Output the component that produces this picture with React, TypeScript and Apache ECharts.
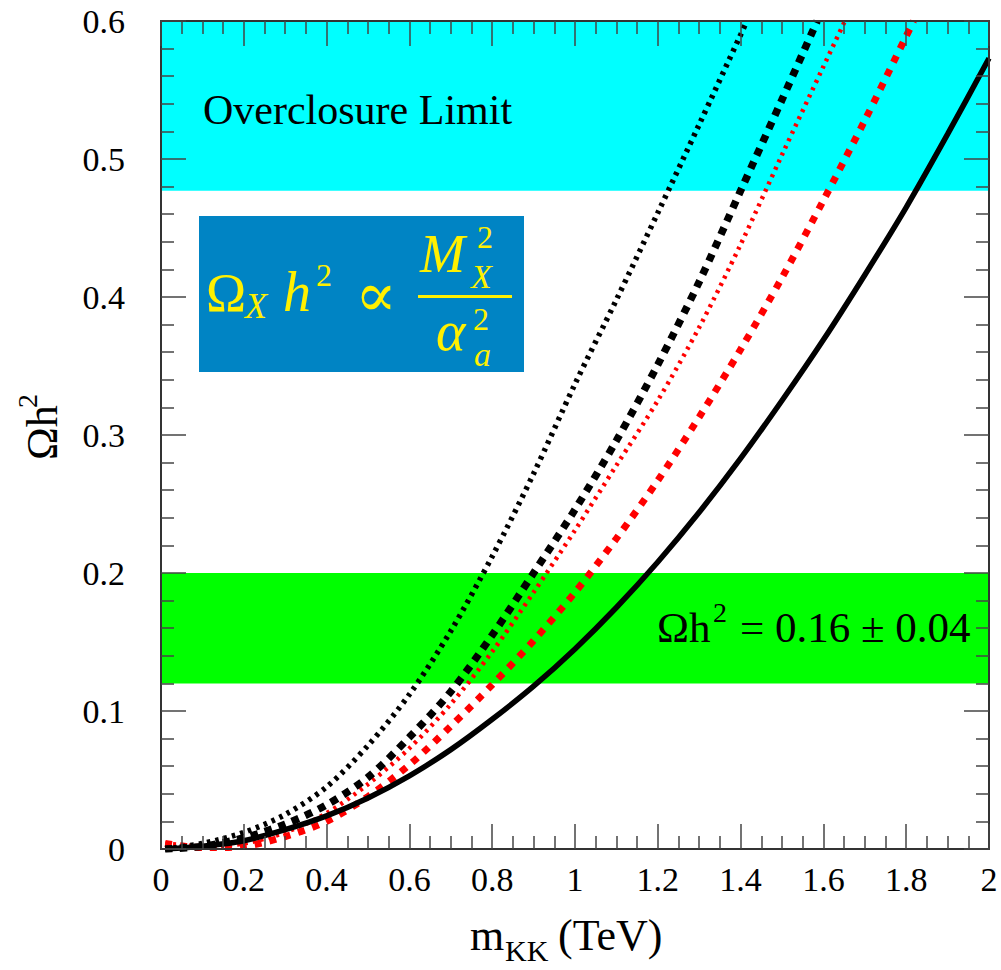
import React, { useEffect, useRef } from "react";
import * as echarts from "echarts";

// Relic density Ωh² versus KK mass (TeV)
const xTicks = ["0", "0.2", "0.4", "0.6", "0.8", "1", "1.2", "1.4", "1.6", "1.8", "2"];
const yTicks = ["0", "0.1", "0.2", "0.3", "0.4", "0.5", "0.6"];

const blackSolid: [number, number][] = [
  [0.01, 0.0], [0.1, 0.002], [0.2, 0.006], [0.3, 0.014], [0.4, 0.024], [0.5, 0.037],
  [0.6, 0.053], [0.7, 0.072], [0.8, 0.094], [0.9, 0.118], [1.0, 0.145], [1.1, 0.175],
  [1.2, 0.208], [1.3, 0.244], [1.4, 0.283], [1.5, 0.325], [1.6, 0.369], [1.7, 0.416],
  [1.8, 0.465], [1.9, 0.518], [2.0, 0.573],
];
const blackDotted: [number, number][] = [
  [0.01, 0.0], [0.1, 0.004], [0.2, 0.012], [0.3, 0.025], [0.4, 0.045], [0.5, 0.075],
  [0.6, 0.112], [0.7, 0.158], [0.8, 0.212], [0.9, 0.272], [1.0, 0.337], [1.1, 0.398],
  [1.2, 0.461], [1.3, 0.525], [1.4, 0.59], [1.415, 0.6],
];
const blackDashed: [number, number][] = [
  [0.01, 0.0], [0.1, 0.002], [0.2, 0.008], [0.3, 0.018], [0.4, 0.032], [0.5, 0.052],
  [0.6, 0.081], [0.7, 0.114], [0.8, 0.155], [0.9, 0.2], [1.0, 0.246], [1.1, 0.296],
  [1.2, 0.351], [1.3, 0.411], [1.4, 0.477], [1.5, 0.543], [1.585, 0.6],
];
const redDotted: [number, number][] = [
  [0.01, 0.004], [0.1, 0.002], [0.2, 0.004], [0.3, 0.012], [0.4, 0.026], [0.5, 0.047],
  [0.6, 0.073], [0.7, 0.105], [0.8, 0.143], [0.9, 0.186], [1.0, 0.231], [1.1, 0.278],
  [1.2, 0.325], [1.3, 0.378], [1.4, 0.438], [1.5, 0.503], [1.6, 0.567], [1.652, 0.6],
];
const redDashed: [number, number][] = [
  [0.01, 0.004], [0.1, 0.001], [0.2, 0.002], [0.3, 0.009], [0.4, 0.02], [0.5, 0.038],
  [0.6, 0.061], [0.7, 0.089], [0.8, 0.119], [0.9, 0.151], [1.0, 0.186], [1.1, 0.225],
  [1.2, 0.267], [1.3, 0.313], [1.4, 0.362], [1.5, 0.414], [1.6, 0.47], [1.7, 0.528],
  [1.8, 0.589], [1.818, 0.6],
];

// Horizontal bands: WMAP-preferred range and overclosure region
const wmapBand = [0.12, 0.2];
const overclosureBand = [0.477, 0.6];

const SERIF = "'Liberation Serif', 'DejaVu Serif', serif";
const YELLOW = "#fff000";

// text placed by its alphabetic baseline
function txt(x: number, baseline: number, s: string, size: number, opts: any = {}) {
  return {
    type: "text",
    x,
    y: baseline - 0.3375 * size,
    z: 100,
    style: {
      text: s,
      fontFamily: opts.family || SERIF,
      fontSize: size,
      fontStyle: opts.italic ? "italic" : "normal",
      fill: opts.fill || "#000",
      align: opts.align || "left",
      verticalAlign: "middle",
      lineHeight: size,
    },
  };
}

function axisCommon(pos: string, showLabel: boolean, labels: string[], split: number) {
  return {
    type: "value",
    position: pos,
    z: 10,
    axisLine: { show: true, onZero: false, lineStyle: { color: "#333", width: 2 } },
    axisTick: { show: true, inside: true, length: 25, lineStyle: { color: "#444", width: 1.5 } },
    minorTick: { show: true, splitNumber: split, length: 13, lineStyle: { color: "#444", width: 1.5 } },
    splitLine: { show: false },
    axisLabel: {
      show: showLabel,
      fontFamily: SERIF,
      fontSize: 34,
      color: "#000",
      lineHeight: 34,
      formatter: (v: number) => {
        const i = labels.findIndex((l) => Math.abs(parseFloat(l) - v) < 1e-9);
        return i >= 0 ? labels[i] : "";
      },
    },
  };
}

export default function App() {
  const ref = useRef<HTMLDivElement>(null);

  useEffect(() => {
    document.body.style.margin = "0";
    if (!ref.current) return;
    const chart = echarts.init(ref.current, undefined, { renderer: "svg" });

    const xA = (pos: string, show: boolean) => {
      const base = axisCommon(pos, show, xTicks, 4);
      return { ...base, min: 0, max: 2, interval: 0.2, axisLabel: { ...base.axisLabel, margin: 13 } };
    };
    const yA = (pos: string, show: boolean) => {
      const base = axisCommon(pos, show, yTicks, 5);
      return { ...base, min: 0, max: 0.6, interval: 0.1, axisLabel: { ...base.axisLabel, margin: 36 } };
    };

    const curve = (data: [number, number][], color: string, width: number, type: any, z: number) => ({
      type: "line",
      data,
      showSymbol: false,
      smooth: 0.3,
      clip: true,
      z,
      lineStyle: { color, width, type, cap: "butt" },
      xAxisIndex: 0,
      yAxisIndex: 0,
    });

    const option: any = {
      animation: false,
      grid: { left: 161, right: 12, top: 21, bottom: 121, containLabel: false },
      xAxis: [xA("bottom", true), xA("top", false)],
      yAxis: [yA("left", true), yA("right", false)],
      series: [
        {
          type: "line",
          data: [],
          z: 1,
          markArea: {
            silent: true,
            data: [
              [{ yAxis: overclosureBand[0], itemStyle: { color: "#00ffff" } }, { yAxis: overclosureBand[1] }],
              [{ yAxis: wmapBand[0], itemStyle: { color: "#00ff00" } }, { yAxis: wmapBand[1] }],
            ],
          },
        },
        curve(redDashed, "#ff0000", 7, [7, 8], 3),
        curve(redDotted, "#ff0000", 4.5, [3, 5], 3),
        curve(blackSolid, "#000000", 5.5, "solid", 4),
        curve(blackDashed, "#000000", 7.5, [7.5, 7], 4),
        curve(blackDotted, "#000000", 5.5, [3.5, 5], 4),
      ],
      graphic: [
        // band labels
        txt(203, 124, "Overclosure Limit", 42),
        txt(657, 642, "Ωh", 43),
        txt(713, 622, "2", 28),
        txt(740, 642, "= 0.16 ± 0.04", 43),
        // formula box
        {
          type: "rect",
          z: 90,
          shape: { x: 199, y: 216, width: 325, height: 156 },
          style: { fill: "#0084c4" },
        },
        txt(206, 311, "Ω", 54, { fill: YELLOW }),
        txt(245, 318, "X", 36, { fill: YELLOW, italic: true }),
        txt(283, 311, "h", 56, { fill: YELLOW, italic: true }),
        txt(316, 286, "2", 32, { fill: YELLOW }),
        {
          type: "text",
          x: 376,
          y: 294,
          z: 100,
          style: {
            text: "∝",
            fontFamily: "'DejaVu Serif', serif",
            fontSize: 62,
            fill: YELLOW,
            align: "center",
            verticalAlign: "middle",
            lineHeight: 62,
          },
        },
        { type: "rect", z: 100, shape: { x: 418, y: 295, width: 94, height: 3 }, style: { fill: YELLOW } },
        txt(420, 272, "M", 54, { fill: YELLOW, italic: true }),
        txt(477, 248, "2", 32, { fill: YELLOW }),
        txt(471, 288, "X", 34, { fill: YELLOW, italic: true }),
        txt(436, 350, "α", 56, { fill: YELLOW, italic: true }),
        txt(473, 330, "2", 32, { fill: YELLOW }),
        txt(474, 366, "a", 34, { fill: YELLOW, italic: true }),
        // x axis title
        txt(470, 950, "m", 44),
        txt(505, 961, "KK", 30),
        txt(547, 950, " (TeV)", 44),
        // y axis title (rotated)
        {
          type: "group",
          x: 57,
          y: 460,
          rotation: Math.PI / 2,
          children: [txt(0, 0, "Ωh", 44), txt(52, -20, "2", 28)],
        },
      ],
    };

    chart.setOption(option);
    return () => chart.dispose();
  }, []);

  return <div ref={ref} style={{ width: 1001, height: 970 }} />;
}
